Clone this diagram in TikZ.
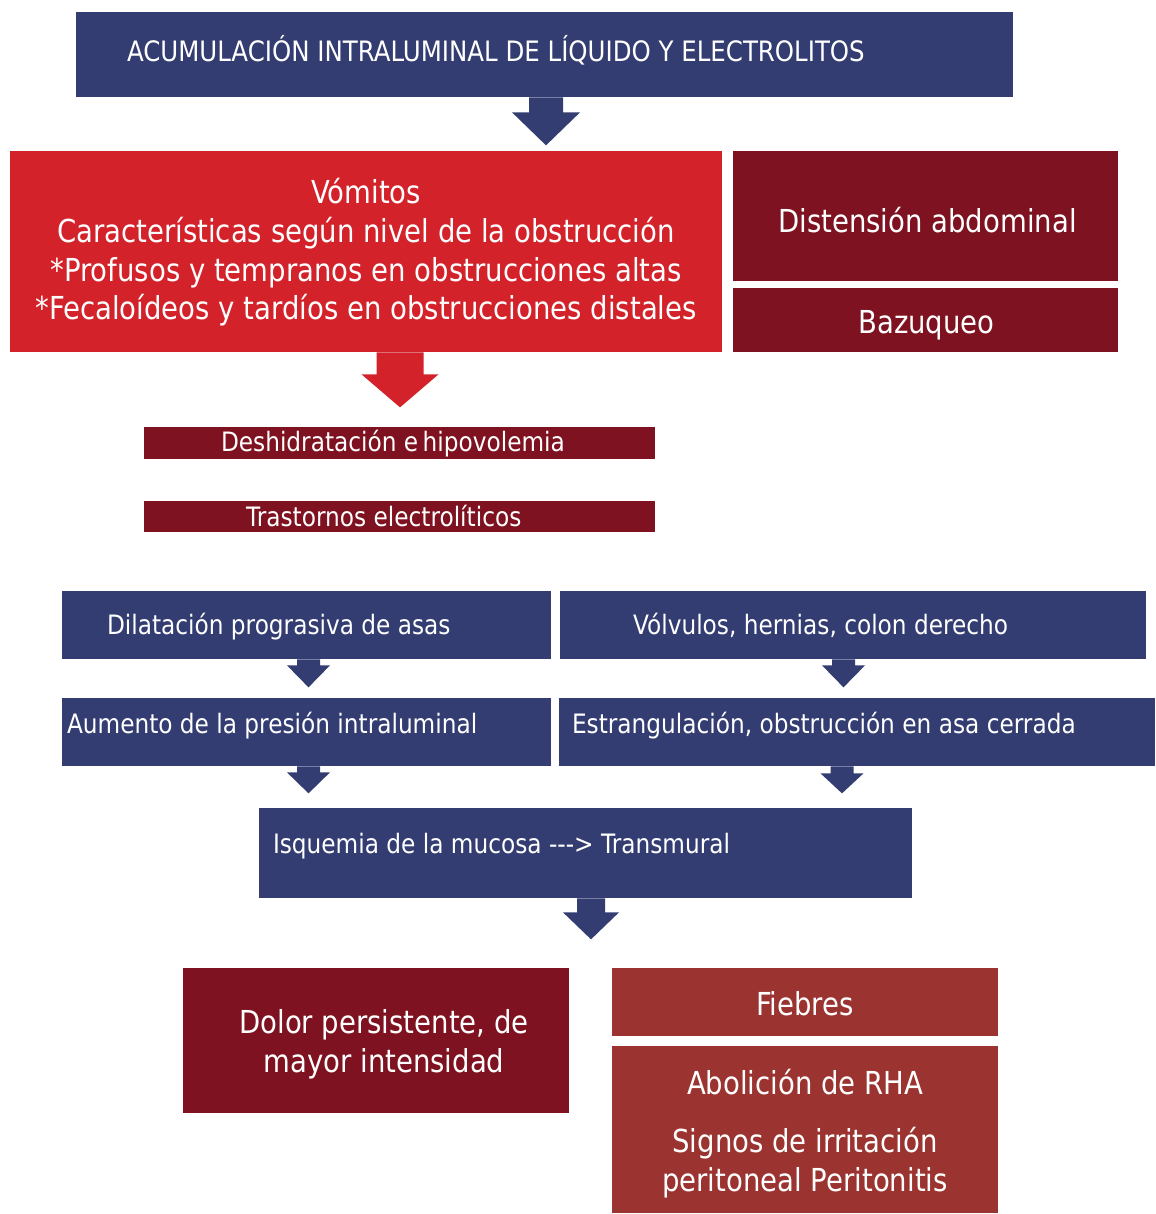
\documentclass[tikz,border=0pt]{standalone}
\usepackage{fontspec}
\setmainfont{DejaVu Sans}[FakeStretch=0.87]
\usetikzlibrary{calc,positioning}

\definecolor{obsnavy}{HTML}{343D71}
\definecolor{obsred}{HTML}{D3222A}
\definecolor{obsdark}{HTML}{7E1220}
\definecolor{obsbrick}{HTML}{9B3431}

% block arrow pointing down: colour, top point, shaft half, head half, shaft length, head length
\newcommand{\blockdown}[6]{%
  \fill[#1] #2 ++(-#3,0) -- ++(0,#5) -- ++(#3-#4,0) -- ++(#4,#6)
    -- ++(#4,-#6) -- ++(#3-#4,0) -- ++(0,-#5) -- cycle;}

\begin{document}
\begin{tikzpicture}[
  x=0.02cm, y=-0.02cm,
  box/.style 2 args={
    inner sep=0pt,
    minimum width=#1*0.02cm, minimum height=#2*0.02cm
  },
  big/.style={font=\fontsize{18}{22}\selectfont},
  small/.style={font=\fontsize{15.2}{18}\selectfont},
  txt/.style={text=white, inner sep=0pt, align=center},
  lbl/.style={text=white, inner sep=0pt, anchor=west}
]
\useasboundingbox (0,0) rectangle (1156,1214);

%% ============================================================
%%  TOP
%% ============================================================
\node[box={937}{85}, fill=obsnavy] (acum) at (544.5,54.5) {};
\node[lbl, font=\fontsize{16}{19}\selectfont] (acumT) at ($(acum.west)+(51,-4.5)$)
  {ACUMULACIÓN INTRALUMINAL DE LÍQUIDO Y ELECTROLITOS};

\node[box={712}{201}, fill=obsred] (vom) at (366,251.5) {};
\node[txt, big] (vomT) at ($(vom)+(0,1)$)
  {Vómitos\\
   Características según nivel de la obstrucción\\
   *Profusos y tempranos en obstrucciones altas\\
   *Fecaloídeos y tardíos en obstrucciones distales};

\node[box={385}{130}, fill=obsdark] (dist) at (925.5,216) {};
\node[txt, big] (distT) at ($(dist)+(2,4)$) {Distensión abdominal};
\node[box={385}{64}, fill=obsdark] (baz) at (925.5,320) {};
\node[txt, big] (bazT) at ($(baz)+(1,5)$) {Bazuqueo};

\blockdown{obsnavy}{($(acum.south)+(1.5,0)$)}{17}{34}{15}{33}
\blockdown{obsred}{($(vom.south)+(34,0)$)}{23.5}{38.5}{22}{33}

%% ============================================================
%%  MIDDLE
%% ============================================================
\node[box={511}{32}, fill=obsdark] (desh) at (399.5,443) {};
\node[lbl, small] (deshT) at ($(desh.west)+(77,1)$)
  {Deshidratación e\,hipovolemia};
\node[box={511}{31}, fill=obsdark] (tras) at (399.5,516.5) {};
\node[lbl, small] (trasT) at ($(tras.west)+(102,0)$)
  {Trastornos electrolíticos};

\node[box={489}{68}, fill=obsnavy] (dil) at (306.5,625) {};
\node[lbl, small] (dilT) at ($(dil.west)+(45,2)$)
  {Dilatación prograsiva de asas};
\node[box={586}{68}, fill=obsnavy] (volv) at (853,625) {};
\node[lbl, small] (volvT) at ($(volv.west)+(73,0)$)
  {Vólvulos, hernias, colon derecho};

\node[box={489}{68}, fill=obsnavy] (aum) at (306.5,732) {};
\node[lbl, small] (aumT) at ($(aum.west)+(5,-6)$)
  {Aumento de la presión intraluminal};
\node[box={596}{68}, fill=obsnavy] (estr) at (857,732) {};
\node[lbl, small] (estrT) at ($(estr.west)+(13,-6)$)
  {Estrangulación, obstrucción en asa cerrada};

\blockdown{obsnavy}{($(dil.south)+(2,0)$)}{11.5}{21.5}{6}{22}
\blockdown{obsnavy}{($(volv.south)+(-9.5,0)$)}{11.5}{21.5}{6}{22}
\blockdown{obsnavy}{($(aum.south)+(2,0)$)}{11.5}{21.5}{6}{21}
\blockdown{obsnavy}{($(estr.south)+(-15,0)$)}{11.5}{21.5}{7}{20}

\node[box={653}{90}, fill=obsnavy] (isq) at (585.5,853) {};
\node[lbl, small] (isqT) at ($(isq.west)+(14,-7)$)
  {Isquemia de la mucosa {-}{-}{-}> Transmural};

\blockdown{obsnavy}{($(isq.south)+(5.5,0)$)}{14}{28}{14}{27}

%% ============================================================
%%  BOTTOM
%% ============================================================
\node[box={386}{145}, fill=obsdark] (dolor) at (376,1040.5) {};
\node[txt, big] (dolorT) at ($(dolor)+(8,4)$)
  {Dolor persistente, de\\ mayor intensidad};
\node[box={386}{68}, fill=obsbrick] (fieb) at (805,1002) {};
\node[txt, big] (fiebT) at ($(fieb)+(0,2)$) {Fiebres};
\node[box={386}{167}, fill=obsbrick] (abol) at (805,1129.5) {};
\node[txt, font=\fontsize{18}{22.2}\selectfont] (abolT) at ($(abol)+(0,4)$)
  {Abolición de RHA\\[11pt]
   Signos de irritación\\ peritoneal Peritonitis};

\end{tikzpicture}
\end{document}
